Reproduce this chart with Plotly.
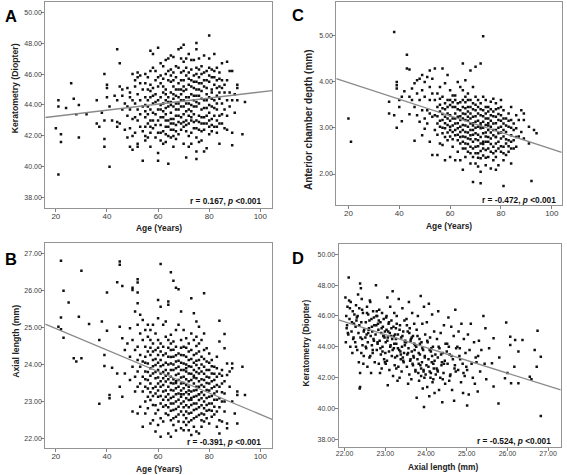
import plotly.graph_objects as go

# ---------------- DATA ----------------
# Panel A: Age (years) vs Keratometry (Diopter)
a_pts = [
(20,42.5),(21,39.5),(21,44.3),(21,43.9),(22,42.1),(22,41.6),(24,43.8),(26,45.4),(27,44.4),(28,43.4),(29,44.0),(29,41.9),(32,43.4),
(36,44.3),(36,42.8),(37,42.6),(38,43.5),(39,46.0),(39,43.0),(39,41.8),(39,41.3),(40,45.3),(40,45.1),(40,44.5),(41,40.0),(41,43.9),(42,43.0),
(43,44.6),(44,47.6),(45,46.7),(44,44.3),(45,45.2),(44,42.9),(44,42.6),(45,42.8),(46,43.7),(46,45.0),(46,44.6),(47,44.1),(47,42.4),
(48,45.1),(48,43.9),(48,43.3),(48,41.9),(49,44.8),(49,44.5),(49,43.7),(49,42.5),(49,41.3),(50,46.0),(50,44.3),(50,43.1),(50,42.0),(50,41.1),
(51,45.6),(51,45.2),(51,44.1),(51,43.2),(51,42.2),(52,45.8),(52,46.1),(52,44.7),(52,43.7),(52,43.0),(52,41.5),(52,41.3),
(53,45.9),(53,45.4),(53,44.3),(53,43.4),(53,42.6),(54,40.4),(54,45.0),(54,43.9),(54,42.3),(55,45.4),(55,44.5),(55,43.2),(55,42.6),(55,41.7),
(56,45.8),(56,44.3),(56,43.4),(56,42.8),(57,47.5),(57,46.2),(57,45.3),(57,44.5),(57,43.7),(57,43.0),(57,42.2),(57,41.3),
(58,47.3),(58,45.1),(58,44.1),(58,42.5),(59,45.6),(59,44.7),(59,43.4),(59,41.9),(60,47.7),(60,45.8),(60,44.3),(60,43.0),(60,40.9),(60,40.4),
(61,46.7),(61,45.4),(61,44.5),(61,43.7),(61,42.7),(61,41.7),(62,45.2),(62,44.1),(62,43.2),(62,42.3),
(63,46.9),(63,46.0),(63,45.0),(63,44.3),(63,43.4),(63,42.6),(63,41.6),(64,40.2),(64,45.6),(64,44.5),(64,43.9),(64,43.0),(64,42.0),
(65,47.2),(65,46.3),(65,45.5),(65,44.8),(65,44.2),(65,43.5),(65,42.8),(65,41.9),(66,46.1),(66,45.2),(66,44.4),(66,43.9),(66,43.1),(66,42.4),(66,41.3),
(67,45.8),(67,45.0),(67,44.1),(67,43.3),(67,42.7),(67,41.8),(68,46.4),(68,45.4),(68,44.5),(68,43.7),(68,42.9),(68,42.1),
(69,47.7),(69,47.0),(69,45.6),(69,44.7),(69,43.9),(69,43.2),(69,42.4),(70,47.9),(70,46.2),(70,45.2),(70,44.3),(70,43.4),(70,42.6),(70,41.5),
(71,40.6),(71,47.0),(71,45.9),(71,45.0),(71,44.1),(71,43.0),(71,42.3),
(72,47.3),(72,46.1),(72,45.3),(72,44.5),(72,43.7),(72,42.8),(72,41.3),(73,46.9),(73,45.6),(73,44.7),(73,44.0),(73,43.2),(73,42.2),(73,41.5),
(74,45.9),(74,45.1),(74,44.3),(74,43.4),(74,42.5),(75,48.0),(75,47.6),(75,46.4),(75,45.5),(75,44.6),(75,43.9),(75,43.0),(75,41.9),(75,41.0),(75,40.5),
(76,47.0),(76,45.8),(76,45.0),(76,44.1),(76,43.3),(76,42.4),(77,46.5),(77,45.4),(77,44.4),(77,43.7),(77,42.8),(77,41.7),
(78,47.2),(78,46.1),(78,45.2),(78,44.3),(78,43.2),(78,42.4),(79,45.6),(79,44.7),(79,43.8),(79,42.8),(79,41.2),
(80,48.5),(80,46.4),(80,45.5),(80,44.5),(80,43.5),(80,42.6),(80,42.1),
(81,45.8),(81,45.0),(81,43.9),(81,43.1),(81,42.3),(82,47.3),(82,46.2),(82,45.3),(82,44.3),(82,43.3),(82,42.6),
(83,46.4),(83,45.6),(83,44.6),(83,43.7),(83,43.0),(83,42.2),(84,41.5),(84,46.1),(84,45.2),(84,44.4),(84,43.3),
(85,46.7),(85,45.6),(85,44.1),(85,42.8),(86,44.8),(86,43.7),(87,46.8),(87,45.6),(87,44.3),(87,43.3),(88,46.2),(88,43.9),
(89,46.2),(89,44.3),(89,42.2),(89,41.4),(90,44.7),(91,45.3),(91,45.1),(91,44.3),(93,42.1),(94,44.2),
(62,46.5),(64,47.0),(66,47.1),(68,47.6),(70,46.8),(72,42.0),(74,46.9),(76,41.6),(78,41.0),(71,43.6),(73,43.0),(67,44.6),(69,45.0),
(63,43.8),(65,44.0),(61,44.0),(75,45.0),(77,43.2),(79,46.2),(81,44.4),(83,44.1),(55,44.0),(58,43.5),(62,44.8),(66,42.0),(70,44.9),
(74,44.6),(76,46.3),(80,47.0),(84,44.8),
(55,46.0),(55,43.6),(55,42.0),(56,45.0),(56,43.9),(56,41.9),(57,44.9),(57,42.6),(58,46.4),(58,44.6),(58,43.0),(59,46.2),(59,44.2),(59,42.7),
(60,45.2),(60,43.7),(60,42.2),(61,45.9),(61,43.2),(61,42.2),(62,45.7),(62,43.6),(62,41.5),(63,44.7),(63,43.0),(63,42.1),(64,46.2),(64,44.2),
(64,42.6),(65,45.9),(65,43.1),(65,42.4),(66,45.6),(66,44.7),(66,42.8),(67,46.5),(67,43.7),(67,42.3),(68,45.0),(68,44.1),(68,43.3),(69,46.1),
(69,44.3),(69,42.8),(70,45.6),(70,43.9),(70,42.9),(71,46.4),(71,44.5),(71,42.7),(72,45.7),(72,44.1),(72,43.3),(73,46.3),(73,45.2),(73,43.6),
(74,45.5),(74,43.9),(74,42.9),(75,46.0),(75,44.2),(75,42.5),(76,45.4),(76,44.6),(76,42.9),(77,46.0),(77,44.9),(77,42.3),(78,45.6),(78,43.8),
(78,42.8),(79,45.1),(79,44.3),(79,43.3),(80,45.9),(80,44.0),(80,43.0),(81,46.3),(81,44.8),(81,42.7),(82,45.8),(82,43.8),(83,45.1),(83,42.6),
(84,45.7),(84,42.8),(85,45.1),(85,43.4),(86,45.3),(86,42.5),(88,44.8),(90,43.5),(87,42.4),
]
a_fit_x = [15.86, 104.6]
a_fit_y = [43.19, 44.93]

# Panel C: Age (years) vs Anterior chamber depth (mm)
c_pts = [
(20,3.20),(21,2.70),(36,3.56),(36,3.31),(38,5.07),(38,3.27),(39,3.99),(39,3.92),(39,3.85),(39,3.00),(40,3.60),(40,3.45),
(41,3.67),(41,3.14),(42,3.79),(43,4.58),(43,4.28),(44,4.26),(44,3.67),(44,3.29),(45,3.85),(45,3.60),(46,3.96),(46,3.45),(46,2.72),
(47,4.03),(47,3.74),(47,3.27),(48,4.06),(48,3.60),(48,3.13),(49,4.14),(49,3.81),(49,3.38),(49,2.84),(50,3.99),(50,3.67),(50,3.20),(50,2.98),
(51,4.10),(51,3.38),(51,3.09),(52,4.24),(52,3.88),(52,3.60),(52,3.31),(52,2.70),(53,4.06),(53,3.74),(53,3.24),(53,2.41),
(54,4.28),(54,3.60),(54,3.27),(54,2.95),(55,3.74),(55,3.45),(55,3.09),(55,2.41),(56,3.88),(56,3.63),(56,3.35),(56,3.02),(56,2.66),
(57,4.28),(57,3.67),(57,3.42),(57,3.17),(57,2.88),(57,2.63),(58,3.96),(58,3.53),(58,3.24),(58,2.99),(58,2.30),
(59,4.14),(59,3.60),(59,3.31),(59,3.06),(59,2.73),(60,3.81),(60,3.49),(60,3.27),(60,3.02),(60,2.81),(60,2.37),
(61,3.70),(61,3.45),(61,3.20),(61,2.91),(61,2.59),(62,3.60),(62,3.31),(62,3.09),(62,2.84),(62,2.30),
(63,3.99),(63,3.53),(63,3.24),(63,2.99),(63,2.73),(63,2.48),(64,3.88),(64,3.38),(64,3.17),(64,2.91),(64,2.66),(64,2.30),
(65,4.39),(65,3.81),(65,3.60),(65,3.31),(65,3.06),(65,2.81),(65,2.55),(65,2.09),
(66,4.03),(66,3.67),(66,3.42),(66,3.17),(66,2.91),(66,2.66),(66,2.37),(67,3.74),(67,3.45),(67,3.24),(67,3.02),(67,2.77),(67,2.48),
(68,4.24),(68,3.60),(68,3.31),(68,3.09),(68,2.84),(68,2.59),(68,2.23),(69,3.88),(69,3.53),(69,3.24),(69,2.95),(69,2.70),(69,2.37),(69,1.83),
(70,4.32),(70,3.67),(70,3.38),(70,3.13),(70,2.88),(70,2.59),(70,2.23),(71,3.60),(71,3.31),(71,3.02),(71,2.73),(71,2.45),(71,2.16),
(72,4.39),(72,3.53),(72,3.27),(72,2.99),(72,2.66),(72,2.34),(72,1.80),(72,2.05),(73,4.98),(73,3.67),(73,3.38),(73,3.13),(73,2.88),(73,2.55),
(74,3.60),(74,3.31),(74,3.06),(74,2.81),(74,2.52),(74,2.19),(75,3.45),(75,3.20),(75,2.95),(75,2.70),(75,2.37),
(76,3.56),(76,3.27),(76,3.02),(76,2.77),(76,2.48),(76,2.12),(77,3.63),(77,3.35),(77,3.09),(77,2.84),(77,2.59),(77,2.30),
(78,3.53),(78,3.24),(78,2.95),(78,2.66),(78,2.37),(78,2.09),(79,3.42),(79,3.17),(79,2.88),(79,2.55),(79,2.19),
(80,3.60),(80,3.27),(80,3.02),(80,2.77),(80,2.48),(81,1.74),(81,3.38),(81,3.09),(81,2.81),(81,2.59),(81,2.30),
(82,3.20),(82,2.91),(82,2.66),(82,2.41),(83,3.31),(83,3.02),(83,2.73),(83,2.48),(84,3.45),(84,3.17),(84,2.84),(84,2.55),(84,2.23),
(85,3.09),(85,2.73),(86,3.27),(86,2.99),(86,2.59),(87,3.17),(87,2.81),(88,3.38),(88,2.91),(89,3.31),(89,3.17),(89,2.77),
(91,3.02),(91,2.66),(92,1.85),(93,2.95),(94,2.88),
(62,3.45),(64,3.02),(66,2.80),(68,2.95),(70,3.00),(72,3.10),(74,2.90),(76,2.90),(78,2.80),(71,2.85),(73,2.70),(75,3.05),(67,3.15),(69,3.10),
(55,3.25),(55,2.85),(56,3.50),(56,3.15),(57,3.30),(57,3.00),(58,3.40),(58,3.10),(58,2.80),(59,3.45),(59,3.20),(59,2.90),(60,3.60),(60,3.15),
(60,2.95),(61,3.55),(61,3.05),(61,2.75),(62,3.70),(62,3.20),(62,2.95),(63,3.40),(63,3.10),(63,2.85),(64,3.55),(64,3.25),(64,2.80),(65,3.45),
(65,3.20),(65,2.95),(65,2.70),(66,3.55),(66,3.30),(66,3.05),(66,2.55),(67,3.60),(67,3.35),(67,2.90),(67,2.65),(68,3.45),(68,3.20),(68,2.75),
(68,2.45),(69,3.40),(69,3.05),(69,2.85),(69,2.55),(70,3.50),(70,3.25),(70,2.75),(70,2.45),(71,3.45),(71,3.15),(71,2.60),(71,2.35),(72,3.40),
(72,3.05),(72,2.80),(72,2.50),(73,3.25),(73,3.00),(73,2.65),(73,2.40),(74,3.45),(74,3.20),(74,2.70),(74,2.35),(75,3.35),(75,3.10),(75,2.80),
(75,2.55),(76,3.40),(76,3.15),(76,2.65),(77,3.25),(77,2.95),(77,2.45),(78,3.40),(78,3.10),(78,2.80),(78,2.50),(79,3.30),(79,3.00),(79,2.70),
(80,3.45),(80,3.15),(80,2.90),(80,2.60),(81,3.20),(81,2.95),(81,2.45),(82,3.05),(82,2.75),(83,3.15),(83,2.60),(84,3.00),(84,2.70),(85,2.95),
(85,2.55),(86,2.80),
]
c_fit_x = [15.2, 103.9]
c_fit_y = [4.065, 2.47]

# Panel B: Age (years) vs Axial length (mm)
b_pts = [
(22,26.80),(23,25.99),(22,25.27),(22,24.95),(21,25.02),(23,24.72),(25,25.67),(30,26.53),(29,25.29),(33,25.09),(27,24.17),(28,24.08),(30,24.17),
(37,22.94),(37,24.66),(38,25.16),(39,23.96),(39,24.26),(40,25.94),(40,24.91),(41,23.18),(41,23.09),(42,23.91),(44,26.22),(44,23.76),
(45,26.69),(45,26.78),(46,26.12),(45,25.02),(46,24.71),(45,23.40),(46,23.13),(47,24.39),(47,23.76),(48,24.57),(49,24.98),(49,24.21),(49,23.58),
(50,26.07),(50,26.01),(50,24.66),(50,23.94),(50,22.73),(51,25.43),(51,24.39),(51,23.67),(51,23.27),
(52,26.30),(52,26.21),(52,25.94),(52,25.65),(52,25.07),(52,24.48),(52,24.12),(52,23.81),(52,23.40),(52,22.68),
(53,25.34),(53,24.84),(53,24.26),(53,23.94),(53,23.49),(53,22.86),(54,25.20),(54,24.66),(54,24.08),(54,23.67),(54,23.27),(54,22.32),
(55,24.93),(55,24.48),(55,24.21),(55,23.81),(55,23.40),(55,22.68),(56,25.07),(56,24.75),(56,24.35),(56,24.03),(56,23.58),(56,23.13),(56,22.82),
(57,24.93),(57,24.66),(57,24.26),(57,23.90),(57,23.49),(57,23.04),(57,22.41),(58,25.07),(58,24.57),(58,24.12),(58,23.76),(58,23.36),(58,22.91),(58,22.50),
(59,24.84),(59,24.39),(59,23.99),(59,23.63),(59,23.22),(59,22.68),(59,22.19),
(60,25.25),(60,25.74),(60,24.66),(60,24.26),(60,23.85),(60,23.49),(60,23.13),(60,22.77),(60,22.37),
(61,26.71),(61,25.56),(61,24.57),(61,24.12),(61,23.76),(61,23.40),(61,22.95),(61,22.55),(61,22.05),
(62,25.07),(62,24.48),(62,23.99),(62,23.63),(62,23.27),(62,22.86),(62,22.46),(63,25.16),(63,24.75),(63,24.30),(63,23.85),(63,23.54),(63,23.13),(63,22.68),
(64,25.70),(64,25.61),(64,24.66),(64,24.21),(64,23.76),(64,23.40),(64,23.04),(64,22.64),(64,22.14),
(65,26.49),(65,24.57),(65,24.80),(65,24.39),(65,24.03),(65,23.67),(65,23.31),(65,22.95),(65,22.50),(65,22.05),
(66,26.26),(66,24.62),(66,24.21),(66,23.85),(66,23.49),(66,23.13),(66,22.77),(66,22.37),
(67,26.07),(67,24.93),(67,24.48),(67,24.08),(67,23.72),(67,23.36),(67,23.00),(67,22.59),(67,22.22),
(68,26.03),(68,25.07),(68,24.30),(68,23.94),(68,23.58),(68,23.22),(68,22.86),(68,22.46),
(69,25.43),(69,24.66),(69,24.26),(69,23.85),(69,23.49),(69,23.13),(69,22.73),(69,22.28),
(70,24.93),(70,24.48),(70,24.03),(70,23.67),(70,23.36),(70,23.00),(70,22.64),(70,22.23),
(71,24.71),(71,24.21),(71,23.81),(71,23.45),(71,23.09),(71,22.73),(71,22.37),(72,24.57),(72,24.12),(72,23.76),(72,23.40),(72,23.04),(72,22.68),(72,22.23),
(73,25.79),(73,24.84),(73,24.39),(73,23.94),(73,23.58),(73,23.27),(73,22.91),(73,22.50),(73,22.10),
(74,25.38),(74,24.66),(74,24.26),(74,23.85),(74,23.49),(74,23.13),(74,22.77),(74,22.32),
(75,25.16),(75,24.75),(75,24.30),(75,23.99),(75,23.63),(75,23.31),(75,22.95),(75,22.59),(75,22.19),
(76,25.02),(76,24.57),(76,24.12),(76,23.76),(76,23.40),(76,23.04),(76,22.64),(76,22.14),
(77,24.66),(77,24.21),(77,23.81),(77,23.45),(77,23.09),(77,22.68),(77,22.32),
(78,25.92),(78,24.84),(78,24.39),(78,23.94),(78,23.58),(78,23.18),(78,22.82),(78,22.46),
(79,24.44),(79,24.08),(79,23.67),(79,23.31),(79,22.91),(79,22.55),(80,24.30),(80,23.85),(80,23.49),(80,23.13),(80,22.77),(80,22.41),
(81,24.12),(81,23.76),(81,23.36),(81,22.95),(81,22.59),(82,23.94),(82,23.58),(82,23.22),(82,22.86),
(83,24.21),(83,23.67),(83,23.27),(83,22.73),(83,22.32),(84,25.18),(84,24.62),(84,23.40),(84,23.09),(84,22.50),(84,22.14),
(85,23.85),(85,23.49),(85,23.00),(85,22.46),(86,24.82),(86,24.44),(86,23.22),(86,22.73),(87,24.03),(87,23.72),(87,22.41),(87,22.28),
(88,23.81),(88,23.40),(89,24.03),(89,23.90),(89,23.00),(90,22.68),(91,23.27),(91,23.18),(91,22.41),(93,23.94),(94,23.18),
(62,23.80),(64,23.20),(66,23.60),(68,23.40),(70,23.50),(72,23.30),(74,23.70),(76,23.20),(71,23.90),(73,23.10),(75,23.40),(67,23.50),(69,23.20),
(55,24.05),(55,23.60),(55,23.00),(56,23.80),(56,23.35),(57,24.45),(57,23.70),(57,23.25),(58,24.35),(58,23.95),(58,23.15),(59,24.15),(59,23.80),
(59,23.40),(59,22.90),(60,24.45),(60,24.05),(60,23.65),(60,23.30),(61,24.35),(61,23.95),(61,23.55),(61,23.15),(62,24.25),(62,23.45),(62,23.05),
(63,24.05),(63,23.70),(63,23.30),(63,22.90),(64,24.45),(64,24.00),(64,23.60),(64,22.85),(65,24.20),(65,23.85),(65,23.50),(65,23.10),(65,22.75),
(66,24.40),(66,24.00),(66,23.30),(66,22.95),(66,22.55),(67,24.25),(67,23.90),(67,23.55),(67,23.20),(67,22.80),(68,24.10),(68,23.75),(68,23.05),
(68,22.65),(69,24.45),(69,24.05),(69,23.65),(69,23.30),(69,22.95),(70,24.25),(70,23.85),(70,23.20),(70,22.85),(70,22.45),(71,24.45),(71,24.00),
(71,23.60),(71,23.25),(71,22.90),(71,22.55),(72,24.35),(72,23.95),(72,23.55),(72,23.20),(72,22.85),(72,22.45),(73,24.15),(73,23.75),(73,23.05),
(73,22.70),(74,24.05),(74,23.65),(74,23.30),(74,22.95),(74,22.55),(75,24.50),(75,24.10),(75,23.80),(75,23.15),(75,22.80),(76,24.35),(76,23.90),
(76,23.55),(76,23.20),(76,22.85),(77,24.00),(77,23.60),(77,23.25),(77,22.90),(77,22.50),(78,24.15),(78,23.75),(78,23.40),(78,23.00),(78,22.65),
(79,23.85),(79,23.50),(79,23.10),(79,22.75),(80,24.05),(80,23.65),(80,23.30),(80,22.95),(81,23.95),(81,23.55),(81,23.15),(81,22.75),(82,23.75),
(82,23.40),(82,23.05),(82,22.65),(83,23.90),(83,23.45),(83,23.05),(84,23.75),(84,22.85),(85,23.70),(85,23.25),(86,23.55),(86,23.00),
]
b_fit_x = [15.86, 104.6]
b_fit_y = [25.09, 22.52]

# Panel D: Axial length (mm) vs Keratometry (Diopter)
d_al = [
22.10,22.02,22.15,22.07,22.20,22.04,22.12,22.23,22.05,22.17,22.09,22.21,22.03,22.14,22.19,22.24,22.11,22.06,
22.38,22.40,22.33,22.42,22.28,22.36,22.45,22.30,22.41,22.27,22.48,22.34,22.39,22.26,22.44,22.31,22.47,22.35,22.38,22.38,22.37,22.46,22.29,22.43,
22.62,22.55,22.70,22.58,22.66,22.52,22.73,22.60,22.68,22.54,22.64,22.71,22.57,22.67,22.53,22.69,22.61,22.74,22.56,22.65,22.72,22.59,22.51,22.63,
22.77,22.85,22.92,22.80,22.96,22.88,22.78,22.94,22.83,22.90,22.76,22.98,22.86,22.81,22.93,22.79,22.89,22.97,22.84,22.91,22.87,22.82,22.95,22.99,22.79,
23.18,23.05,23.12,23.22,23.02,23.15,23.08,23.20,23.03,23.11,23.24,23.06,23.17,23.01,23.13,23.21,23.09,23.16,23.04,23.23,23.10,23.19,23.06,23.14,23.07,23.22,23.00,
23.33,23.42,23.28,23.47,23.36,23.26,23.44,23.31,23.39,23.49,23.27,23.41,23.34,23.46,23.29,23.38,23.45,23.32,23.40,23.35,23.30,23.26,23.48,23.37,23.43,
23.58,23.66,23.52,23.71,23.60,23.55,23.68,23.63,23.51,23.73,23.57,23.65,23.54,23.70,23.61,23.67,23.53,23.74,23.59,23.64,23.56,23.72,23.62,23.69,
23.87,23.95,23.80,23.91,23.77,23.98,23.84,23.89,23.76,23.93,23.82,23.97,23.79,23.90,23.86,23.94,23.81,23.88,23.96,23.83,23.92,23.77,23.95,23.85,23.99,
24.07,24.15,24.02,24.20,24.10,24.04,24.17,24.12,24.23,24.06,24.14,24.01,24.19,24.09,24.24,24.11,24.16,24.03,24.21,24.08,24.13,24.18,
24.30,24.44,24.36,24.27,24.48,24.33,24.41,24.29,24.46,24.38,24.26,24.43,24.35,24.47,24.32,24.40,24.39,24.28,
24.72,24.55,24.62,24.68,24.52,24.74,24.58,24.66,24.53,24.70,24.60,24.57,24.64,24.69,24.51,24.73,
24.87,24.80,24.93,24.77,24.97,24.84,24.90,24.79,24.95,24.86,24.91,24.82,24.99,
25.10,25.03,25.18,25.07,25.22,25.12,25.01,25.15,25.20,25.05,25.01,25.24,
25.41,25.46,25.30,25.36,25.28,25.44,25.33,25.48,25.27,
25.66,25.78,25.66,25.97,26.07,26.07,26.09,26.17,26.27,26.37,26.55,26.59,26.67,26.72,26.74,26.82,26.82,26.27,25.94,26.19,25.62,25.55,25.80,26.00,
22.13,22.18,22.08,22.22,22.32,22.36,22.43,22.28,22.47,22.41,22.55,22.61,22.67,22.58,22.72,22.52,22.69,22.63,22.78,22.84,22.91,22.96,22.81,
22.88,22.93,22.99,23.03,23.09,23.15,23.21,23.05,23.12,23.18,23.24,23.01,23.28,23.35,23.42,23.48,23.31,23.38,23.44,23.27,23.53,23.59,23.65,
23.71,23.56,23.62,23.68,23.74,23.79,23.85,23.91,23.97,23.82,23.88,23.94,24.03,24.09,24.15,24.21,24.06,24.12,24.18,24.31,24.37,24.44,24.29,
24.41,24.56,24.63,24.71,24.59,24.83,24.92,
]
d_k = [
48.5,47.2,46.9,46.6,46.3,46.0,45.8,45.5,45.2,45.0,44.8,44.5,44.3,44.0,43.6,46.1,47.0,45.4,
48.1,47.8,47.4,47.1,46.7,46.5,46.2,45.9,45.6,45.3,45.1,44.9,44.6,44.3,44.1,43.8,43.4,43.0,42.3,41.4,41.3,42.9,45.7,46.4,
47.0,46.6,46.3,46.1,45.8,45.6,45.4,45.2,45.0,44.8,44.7,44.5,44.3,44.1,43.9,43.6,43.3,43.0,42.7,42.3,45.9,45.1,44.6,46.9,
48.0,46.4,46.2,46.0,45.8,45.6,45.4,45.3,45.1,44.9,44.8,44.6,44.4,44.2,44.0,43.8,43.5,43.2,42.9,42.6,42.3,45.5,44.7,45.0,46.3,
47.6,47.2,46.6,46.2,45.9,45.7,45.5,45.3,45.1,44.9,44.8,44.6,44.5,44.3,44.1,43.9,43.7,43.4,43.1,42.8,42.5,42.1,41.5,44.7,45.0,44.2,43.6,
47.1,46.5,46.0,45.7,45.4,45.2,45.0,44.8,44.6,44.4,44.2,44.0,43.8,43.6,43.4,43.2,43.0,42.7,42.4,42.0,41.8,44.5,44.1,43.7,43.3,
46.9,46.2,45.8,45.5,45.2,45.0,44.7,44.5,44.3,44.1,43.9,43.7,43.5,43.3,43.1,42.9,42.7,42.5,42.2,41.9,41.6,43.8,44.4,43.4,
47.3,46.6,46.0,45.5,45.1,44.8,44.5,44.3,44.0,43.8,43.6,43.4,43.2,43.0,42.8,42.5,42.3,42.1,42.0,41.8,41.3,40.7,40.1,43.5,42.2,
46.8,46.1,45.6,45.0,44.6,44.3,44.0,43.7,43.5,43.2,43.0,42.8,42.6,42.4,42.2,42.0,41.7,41.4,41.0,40.8,43.9,42.9,
46.3,45.4,44.9,44.5,44.2,43.9,43.6,43.3,43.1,42.8,42.6,42.3,42.0,41.6,41.2,40.4,43.0,42.5,
46.4,45.9,45.3,44.7,44.2,43.9,43.5,43.2,42.9,42.6,42.2,41.8,41.2,40.5,43.7,42.4,
45.5,45.0,44.5,44.0,43.6,43.2,42.9,42.5,42.1,41.7,41.0,43.4,42.7,
45.5,44.8,44.3,43.8,43.3,42.9,42.5,42.0,41.6,40.9,40.2,43.0,
46.0,45.2,44.4,43.8,43.4,42.9,42.4,41.9,41.1,
44.55,40.33,41.42,45.57,44.66,44.12,41.63,42.71,43.69,44.44,42.06,41.89,43.79,42.71,45.05,43.36,39.51,41.63,41.96,44.44,42.93,43.9,43.3,42.3,
46.5,45.6,44.9,44.6,46.0,45.4,44.5,44.0,45.0,43.6,46.2,45.7,45.3,44.9,44.4,44.0,43.8,43.4,46.0,45.7,45.2,44.7,44.3,
43.9,43.7,43.0,46.0,45.6,45.2,44.7,44.4,44.0,43.8,43.3,42.9,45.5,45.1,44.7,44.3,43.9,43.5,43.1,42.6,45.4,44.9,44.6,
44.2,43.6,43.2,42.8,42.4,44.7,44.2,43.9,43.3,42.9,42.6,42.4,44.4,43.8,43.4,43.1,42.7,42.3,41.9,44.0,43.5,42.9,42.4,
41.9,44.0,43.4,42.8,42.1,43.9,42.3,
]
d_fit_x = [21.85, 27.31]
d_fit_y = [45.74, 41.20]

# tick values
age_ticks = [20, 40, 60, 80, 100]
k_ticks = [38, 40, 42, 44, 46, 48, 50]
acd_ticks = [2, 3, 4, 5]
al_ticks = [22, 23, 24, 25, 26, 27]

# ---------------- FIGURE ----------------
W, H = 567, 475
FONT = "Arial, Liberation Sans, sans-serif"

def fx(p):
    return p / W

def fy(p):
    return 1 - p / H

fig = go.Figure()

panels = [
    dict(ax="", pts=list(zip(*a_pts)), fit=(a_fit_x, a_fit_y), xr=[15.86, 104.6], yr=[37.34, 50.69],
         xpx=(42.5, 270.5), ypx=(1.5, 208), xt=age_ticks, yt=k_ticks, xf="d", xs=8),
    dict(ax="2", pts=list(zip(*c_pts)), fit=(c_fit_x, c_fit_y), xr=[15.2, 103.9], yr=[1.33, 5.73],
         xpx=(335, 561.7), ypx=(1.5, 205), xt=age_ticks, yt=acd_ticks, xf="d", xs=8),
    dict(ax="3", pts=list(zip(*b_pts)), fit=(b_fit_x, b_fit_y), xr=[15.86, 104.6], yr=[21.74, 27.27],
         xpx=(42.5, 270.5), ypx=(243.3, 448.3), xt=age_ticks, yt=[22, 23, 24, 25, 26, 27], xf="d", xs=8),
    dict(ax="4", pts=(d_al, d_k), fit=(d_fit_x, d_fit_y), xr=[21.85, 27.31], yr=[37.52, 50.67],
         xpx=(337.3, 560.7), ypx=(244, 446.7), xt=al_ticks, yt=k_ticks, xf=".2f", xs=7),
]

axis_common = dict(showline=True, mirror=True, linecolor="#949494", linewidth=1,
                   ticks="outside", ticklen=3, tickcolor="#808080", tickwidth=1,
                   showgrid=False, zeroline=False)

layout_axes = {}
for p in panels:
    xa, ya = "x" + p["ax"], "y" + p["ax"]
    fig.add_trace(go.Scatter(x=p["pts"][0], y=p["pts"][1], mode="markers", xaxis=xa, yaxis=ya,
                             marker=dict(symbol="square", size=2.5, color="#111111", line=dict(width=0)),
                             showlegend=False, hoverinfo="skip"))
    fig.add_trace(go.Scatter(x=p["fit"][0], y=p["fit"][1], mode="lines", xaxis=xa, yaxis=ya,
                             line=dict(color="#8a8a8a", width=1.3), showlegend=False, hoverinfo="skip"))
    layout_axes["xaxis" + p["ax"]] = dict(axis_common, domain=[fx(p["xpx"][0]), fx(p["xpx"][1])],
                                          range=p["xr"], tickvals=p["xt"], tickformat=p["xf"],
                                          anchor=ya, ticklabelstandoff=-3,
                                          tickfont=dict(family=FONT, size=p["xs"], color="#3c3c3c"))
    layout_axes["yaxis" + p["ax"]] = dict(axis_common, domain=[fy(p["ypx"][1]), fy(p["ypx"][0])],
                                          range=p["yr"], tickvals=p["yt"], tickformat=".2f",
                                          anchor=xa, ticklabelstandoff=-2,
                                          tickfont=dict(family=FONT, size=7, color="#3c3c3c"))

fig.update_layout(**layout_axes)

ann = []
for letter, x, y in [("A", 8.5, 15.5), ("C", 296.3, 15), ("B", 8.3, 258.5), ("D", 296.3, 257.5)]:
    ann.append(dict(text="<b>%s</b>" % letter, x=fx(x), y=fy(y), xref="paper", yref="paper",
                    xanchor="center", yanchor="middle",
                    showarrow=False, font=dict(family=FONT, size=16.5, color="#000")))
for txt, x, y in [("r = 0.167, ", 261.7, 201), ("r = -0.472, ", 557.7, 200),
                  ("r = -0.391, ", 261.7, 441.7), ("r = -0.524, ", 552.7, 440.7)]:
    ann.append(dict(text="<b>%s<i>p</i> &lt;0.001</b>" % txt, x=fx(x), y=fy(y), xref="paper", yref="paper",
                    xanchor="right", yanchor="middle", showarrow=False,
                    font=dict(family=FONT, size=8.3, color="#111")))
for txt, x, y in [("Age (Years)", 156.7, 227.7), ("Age (Years)", 448.3, 226),
                  ("Age (Years)", 156.7, 469.3), ("Axial length (mm)", 442, 466.7)]:
    ann.append(dict(text="<b>%s</b>" % txt, x=fx(x), y=fy(y), xref="paper", yref="paper",
                    xanchor="center", yanchor="middle",
                    showarrow=False, font=dict(family=FONT, size=8.4, color="#222")))
for txt, x, y, s in [("Keratometry (Diopter)", 12.3, 88, 8.7), ("Anterior chamber depth (mm)", 306.7, 120, 10.0),
                     ("Axial length (mm)", 12.3, 341.5, 8.7), ("Keratometry (Diopter)", 305, 343, 8.4)]:
    ann.append(dict(text="<b>%s</b>" % txt, x=fx(x), y=fy(y), xref="paper", yref="paper",
                    xanchor="center", yanchor="middle",
                    textangle=-90, showarrow=False, font=dict(family=FONT, size=s, color="#222")))

fig.update_layout(width=W, height=H, margin=dict(l=0, r=0, t=0, b=0),
                  paper_bgcolor="white", plot_bgcolor="white", annotations=ann,
                  font=dict(family=FONT))

fig.write_html("out.html", config={"displayModeBar": False},
               post_script="document.body.style.margin='0';document.body.style.overflow='hidden';")
